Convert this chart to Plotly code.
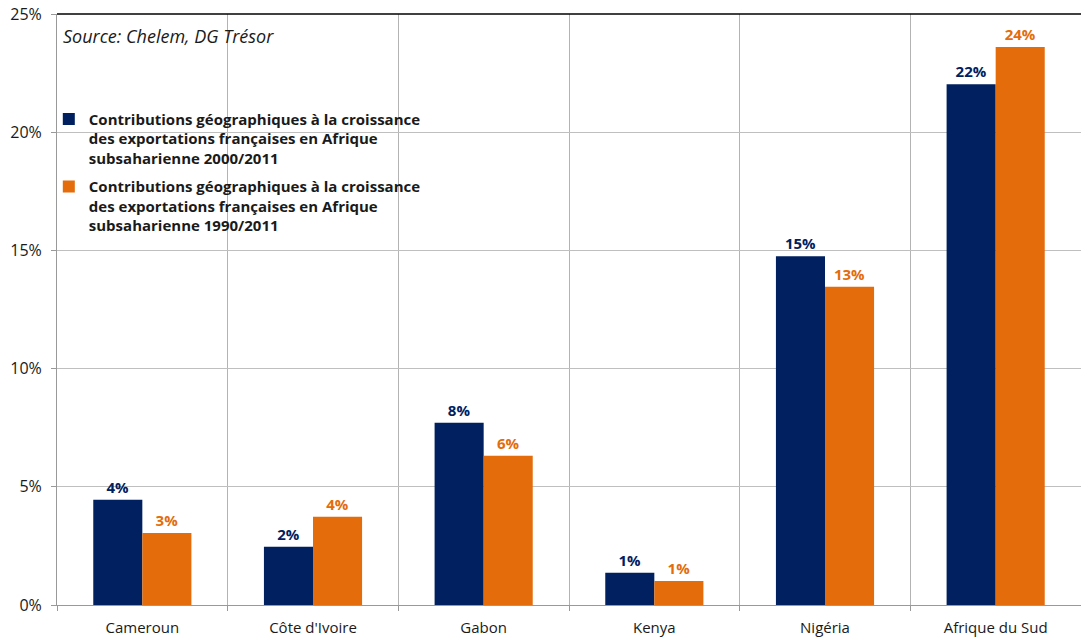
import plotly.graph_objects as go

# Countries and growth contributions (share of the total, as fractions)
pays = ["Cameroun", "Côte d'Ivoire", "Gabon", "Kenya", "Nigéria", "Afrique du Sud"]
contrib_2000_2011 = [0.0445, 0.0246, 0.0771, 0.0136, 0.1475, 0.2203]
contrib_1990_2011 = [0.0305, 0.0373, 0.0631, 0.0102, 0.1346, 0.2360]
y_ticks = [0, 0.05, 0.10, 0.15, 0.20, 0.25]
y_tick_labels = ["0%", "5%", "10%", "15%", "20%", "25%"]

nom_2000 = ("Contributions géographiques à la croissance<br>"
            "des exportations françaises en Afrique<br>subsaharienne 2000/2011")
nom_1990 = ("Contributions géographiques à la croissance<br>"
            "des exportations françaises en Afrique<br>subsaharienne 1990/2011")

BLEU = "#002060"
ORANGE = "#E46C0A"
FONT = "Open Sans"
TXT = "#1a1a1a"

fig = go.Figure()
for nom, grp, vals, col in [(nom_2000, "a", contrib_2000_2011, BLEU),
                            (nom_1990, "b", contrib_1990_2011, ORANGE)]:
    fig.add_trace(go.Bar(
        x=pays, y=vals, name=nom, legendgroup=grp,
        marker=dict(color=col, line=dict(width=0)),
        texttemplate="%{y:.0%}", textposition="outside",
        textfont=dict(family=FONT, size=15, color=col, weight="bold"),
        cliponaxis=False,
    ))

fig.update_layout(
    width=1081, height=639,
    margin=dict(l=57, r=0, t=14, b=34),
    paper_bgcolor="white", plot_bgcolor="white",
    barmode="group", bargap=0.425, bargroupgap=0,
    font=dict(family=FONT, size=15, color=TXT),
    showlegend=True,
    legend=dict(
        x=-0.008, y=0.85, xanchor="left", yanchor="top",
        bgcolor="rgba(0,0,0,0)", valign="top",
        font=dict(family=FONT, size=15, color=TXT, weight="bold"),
        itemsizing="constant", tracegroupgap=6,
    ),
    xaxis=dict(
        type="category", range=[-0.5, 5.5], tickson="boundaries",
        showgrid=True, gridcolor="#b3b3b3", gridwidth=1,
        ticks="outside", ticklen=5, tickcolor="#999999",
        showline=True, linecolor="#999999", linewidth=1,
        tickfont=dict(family=FONT, size=15, color=TXT),
        ticklabelstandoff=9,
    ),
    yaxis=dict(
        range=[0, 0.25], tickvals=y_ticks, ticktext=y_tick_labels,
        showgrid=True, gridcolor="#bfbfbf", gridwidth=1,
        ticks="outside", ticklen=5, tickcolor="#999999",
        showline=True, linecolor="#999999", linewidth=1,
        tickfont=dict(family=FONT, size=16, color=TXT),
        ticklabelstandoff=6, zeroline=False,
    ),
)

# Black frame line along the top of the plotting area
fig.add_shape(type="line", xref="paper", yref="paper", x0=0, x1=1, y0=1, y1=1,
              line=dict(color="black", width=1.5))

fig.add_annotation(
    text="<i>Source: Chelem, DG Trésor</i>", xref="paper", yref="paper",
    x=0.004, y=0.986, xanchor="left", yanchor="top", showarrow=False,
    font=dict(family=FONT, size=18, color=TXT),
)

fig.write_html("out.html")
